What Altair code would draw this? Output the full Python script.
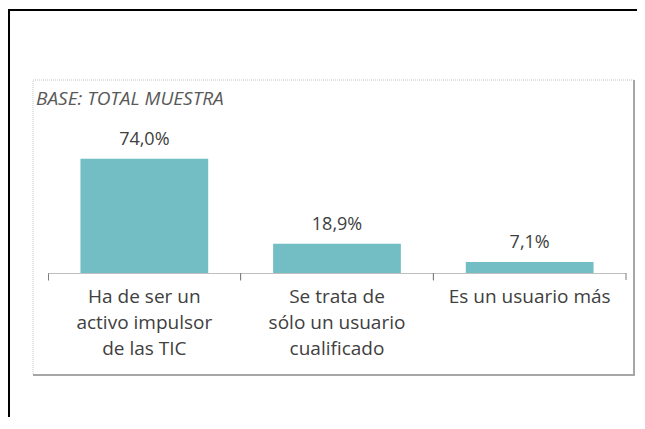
import altair as alt
import pandas as pd

# ---- data ----
categories = [
    "Ha de ser un\nactivo impulsor\nde las TIC",
    "Se trata de\nsólo un usuario\ncualificado",
    "Es un usuario más",
]
values = [74.0, 18.9, 7.1]
value_labels = ["74,0%", "18,9%", "7,1%"]
subtitle = "BASE: TOTAL MUESTRA"

df = pd.DataFrame({"cat": categories, "val": values, "lab": value_labels})

W, H = 578, 193
FONT = "Open Sans"
TXT = "#404040"
AXC = "#7f7f7f"


def xenc(band_pos=None):
    kw = {}
    if band_pos is not None:
        kw["bandPosition"] = band_pos
    return alt.X(
        "cat:N",
        sort=categories,
        title=None,
        scale=alt.Scale(paddingInner=0, paddingOuter=0),
        axis=alt.Axis(
            labels=False,
            title=None,
            grid=False,
            domainColor=AXC,
            domainDash=[1, 1],
            domainWidth=1,
            tickColor=AXC,
            tickSize=7,
            bandPosition=0,
        ),
        **kw,
    )


y = alt.Y("val:Q", scale=alt.Scale(domain=[0, 125]), axis=None)

bars = alt.Chart(df).mark_bar(color="#73BEC4", width={"band": 0.663}).encode(
    x=xenc(), y=y
)

vals = alt.Chart(df).mark_text(
    font=FONT, fontSize=18, color=TXT, baseline="alphabetic", dy=-14
).encode(x=xenc(), y=y, text="lab:N")

catlab = alt.Chart(df).mark_text(
    font=FONT, fontSize=19, color=TXT, baseline="alphabetic",
    lineBreak="\n", lineHeight=26
).encode(x=xenc(), y=alt.value(H + 30), text="cat:N")

endticks = alt.Chart(df).mark_rule(color=AXC, strokeWidth=1).encode(
    x=xenc(1), y=alt.value(H), y2=alt.value(H + 7)
)

dec = alt.Chart(pd.DataFrame({"k": [0]}))

frame = dec.mark_rect(
    fillOpacity=0, stroke="#c4c4c4", strokeDash=[1, 1], strokeWidth=1
).encode(x=alt.value(-15), x2=alt.value(586), y=alt.value(0), y2=alt.value(295))
frame_r = dec.mark_rule(color="#a6a6a6", strokeWidth=2).encode(
    x=alt.value(586), y=alt.value(0), y2=alt.value(296)
)
frame_b = dec.mark_rule(color="#a6a6a6", strokeWidth=2).encode(
    x=alt.value(-15), x2=alt.value(587), y=alt.value(295)
)
black_top = dec.mark_rule(color="black", strokeWidth=2).encode(
    x=alt.value(-40), x2=alt.value(600), y=alt.value(-70)
)
black_left = dec.mark_rule(color="black", strokeWidth=2).encode(
    x=alt.value(-39), y=alt.value(-71), y2=alt.value(345)
)
sub = dec.mark_text(
    text=subtitle, font=FONT, fontStyle="italic", fontSize=19,
    color="#595959", align="left", baseline="alphabetic"
).encode(x=alt.value(-12), y=alt.value(25))

chart = alt.layer(
    frame, frame_r, frame_b, black_top, black_left,
    bars, vals, catlab, endticks, sub
).properties(
    width=W,
    height=H,
    padding={"left": 40, "top": 72, "right": 11, "bottom": 144},
    autosize=alt.AutoSizeParams(type="none"),
    background="white",
).configure_view(strokeWidth=0)

chart.save("out.html", embed_options={"renderer": "svg", "actions": False})
